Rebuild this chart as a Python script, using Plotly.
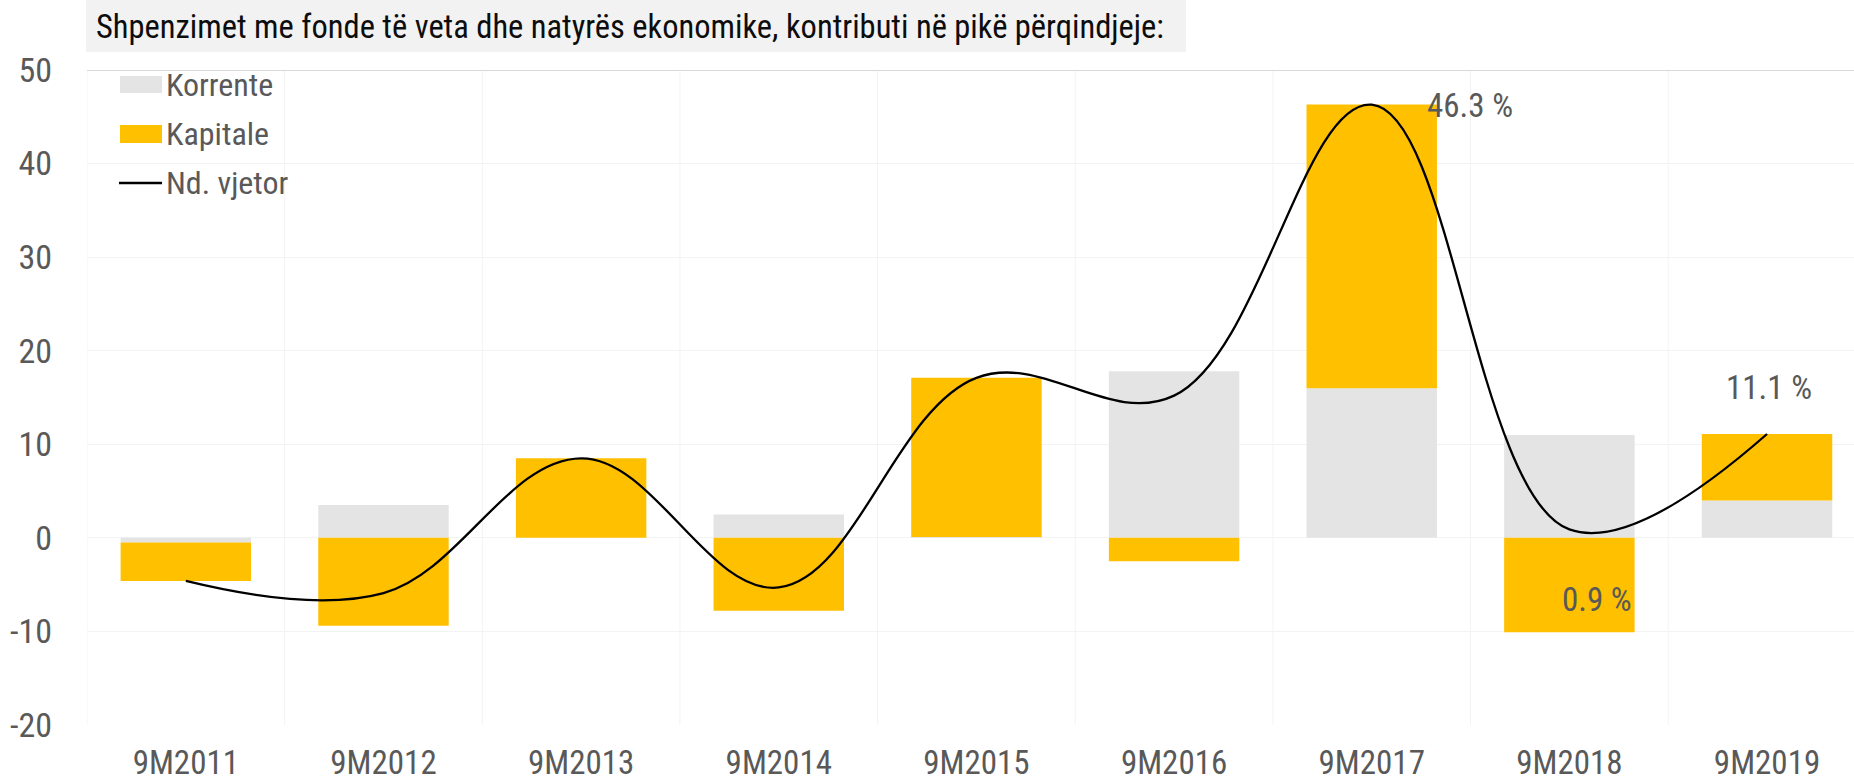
import plotly.graph_objects as go

categories = ["9M2011", "9M2012", "9M2013", "9M2014", "9M2015",
              "9M2016", "9M2017", "9M2018", "9M2019"]
korrente = [-0.5, 3.5, 0.0, 2.5, 0.1, 17.8, 16.0, 11.0, 4.0]
kapitale = [-4.1, -9.4, 8.5, -7.8, 17.0, -2.5, 30.3, -10.1, 7.1]
nd_vjetor = [-4.6, -5.9, 8.5, -5.3, 17.1, 15.2, 46.3, 0.9, 11.1]
y_ticks = [-20, -10, 0, 10, 20, 30, 40, 50]
y_tick_labels = ["-20", "-10", "0", "10", "20", "30", "40", "50"]

title_text = "Shpenzimet me fonde të veta dhe natyrës ekonomike, kontributi në pikë përqindjeje:"
legend_names = ["Korrente", "Kapitale", "Nd. vjetor"]

FONT = "Liberation Sans Narrow, Arial Narrow, Roboto Condensed, DejaVu Sans Condensed, sans-serif"
GRAY_TXT = "#595959"
C_KORR = "#E4E4E4"
C_KAP = "#FFC000"

W, H = 1854, 782
ML, MR, MT, MB = 87, 0, 70, 57
PW, PH = W - ML - MR, H - MT - MB


def px(x):
    return (x - ML) / PW


def py(y):
    return (H - MB - y) / PH


x_idx = list(range(len(categories)))

fig = go.Figure()
fig.add_trace(go.Bar(x=x_idx, y=korrente, name=legend_names[0],
                     marker=dict(color=C_KORR, line=dict(width=0)),
                     width=0.66, showlegend=False))
fig.add_trace(go.Bar(x=x_idx, y=kapitale, name=legend_names[1],
                     marker=dict(color=C_KAP, line=dict(width=0)),
                     width=0.66, showlegend=False))
fig.add_trace(go.Scatter(x=x_idx, y=nd_vjetor, name=legend_names[2],
                         mode="lines",
                         line=dict(color="#000000", width=2.3,
                                   shape="spline", smoothing=1.1),
                         showlegend=False))

shapes = []
# title background
shapes.append(dict(type="rect", xref="paper", yref="paper",
                   x0=px(86), x1=px(1186), y0=py(52), y1=py(0),
                   fillcolor="#F2F2F2", line=dict(width=0), layer="below"))
# top border line at 50
shapes.append(dict(type="line", xref="paper", yref="y",
                   x0=0, x1=1, y0=50, y1=50,
                   line=dict(color="#D9D9D9", width=2)))
# legend swatches
shapes.append(dict(type="rect", xref="paper", yref="paper",
                   x0=px(120), x1=px(162), y0=py(93), y1=py(76),
                   fillcolor=C_KORR, line=dict(width=0)))
shapes.append(dict(type="rect", xref="paper", yref="paper",
                   x0=px(120), x1=px(162), y0=py(143), y1=py(125),
                   fillcolor=C_KAP, line=dict(width=0)))
shapes.append(dict(type="line", xref="paper", yref="paper",
                   x0=px(119), x1=px(162), y0=py(183), y1=py(183),
                   line=dict(color="#000000", width=2.3)))

annotations = []
annotations.append(dict(xref="paper", yref="paper", x=px(94), y=py(27),
                        xanchor="left", yanchor="middle", showarrow=False,
                        text=title_text,
                        font=dict(family=FONT, size=32.5, color="#0D0D0D")))
for name, yc in zip(legend_names, [85, 134, 183]):
    annotations.append(dict(xref="paper", yref="paper", x=px(164), y=py(yc),
                            xanchor="left", yanchor="middle", showarrow=False,
                            text=name,
                            font=dict(family=FONT, size=32, color=GRAY_TXT)))

# value labels for the annual change
lab_specs = [(6, 6.27, 46.2, "left"), (8, 8.01, 16.1, "center"), (7, 7.14, -6.6, "center")]
for i, xx, yy, anc in lab_specs:
    annotations.append(dict(xref="x", yref="y", x=xx, y=yy,
                            xanchor=anc, yanchor="middle", showarrow=False,
                            text=f"{nd_vjetor[i]:.1f} %",
                            font=dict(family=FONT, size=33, color=GRAY_TXT)))

fig.update_layout(
    width=W, height=H,
    margin=dict(l=ML, r=MR, t=MT, b=MB, pad=0),
    paper_bgcolor="white", plot_bgcolor="white",
    barmode="relative", bargap=0.34,
    font=dict(family=FONT, size=34, color=GRAY_TXT),
    shapes=shapes, annotations=annotations,
    xaxis=dict(
        tickmode="array", tickvals=x_idx, ticktext=categories,
        range=[-0.5, 8.44], showgrid=False,
        showline=False, zeroline=False, ticks="", automargin=False,
        ticklabelstandoff=15, tickfont=dict(family=FONT, size=33, color=GRAY_TXT),
    ),
    yaxis=dict(
        range=[-20, 50], tickmode="array", tickvals=y_ticks, ticktext=y_tick_labels,
        showgrid=True, gridcolor="#F3F3F3",
        gridwidth=1, zeroline=True, zerolinecolor="#F3F3F3", zerolinewidth=1,
        showline=False, ticks="", automargin=False, ticklabelstandoff=34,
        tickfont=dict(family=FONT, size=34, color=GRAY_TXT),
    ),
)

# vertical gridlines at category boundaries
for k in range(len(categories) + 1):
    fig.add_shape(type="line", xref="x", yref="y", x0=k - 0.5, x1=k - 0.5,
                  y0=-20, y1=50, line=dict(color="#F3F3F3", width=1), layer="below")

fig.write_html(
    "out.html",
    config={"displayModeBar": False},
    post_script="document.body.style.margin='0px';document.body.style.padding='0px';"
                "document.body.style.overflow='hidden';",
)
